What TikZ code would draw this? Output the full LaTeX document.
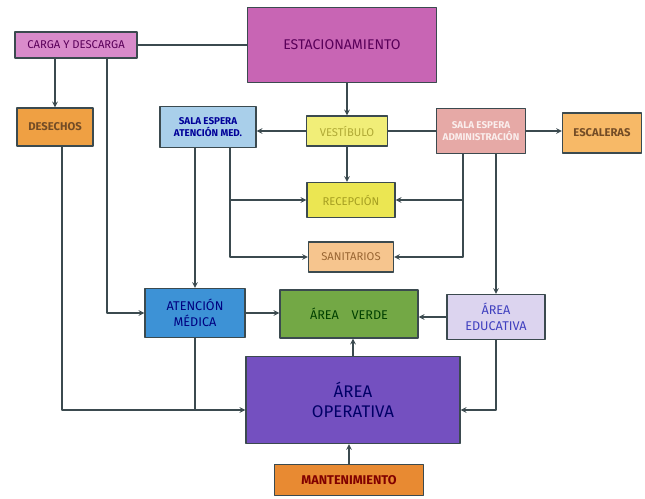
\documentclass[tikz,border=0pt]{standalone}
\usepackage{fontspec}
\setmainfont{Fira Sans}
\definecolor{magclaro}{HTML}{D98BCB}
\definecolor{magenta2}{HTML}{C865B4}
\definecolor{naranja}{HTML}{EFA043}
\definecolor{celeste}{HTML}{A9CFEA}
\definecolor{amarillo}{HTML}{F1EE78}
\definecolor{rosa}{HTML}{E6A9A6}
\definecolor{naranjaclaro}{HTML}{F7B967}
\definecolor{amarillo2}{HTML}{EBE652}
\definecolor{salmon}{HTML}{F6C58E}
\definecolor{azul}{HTML}{3D92D6}
\definecolor{verdeh}{HTML}{73A845}
\definecolor{lavanda}{HTML}{DCD4EF}
\definecolor{morado}{HTML}{7450C0}
\definecolor{naranja2}{HTML}{E88A32}
\definecolor{linea}{HTML}{3B4A4F}
\tikzset{
  caja/.style={draw=linea, line width=1pt, align=center, inner sep=1pt, font=\footnotesize},
  flecha/.style={->, draw=linea, line width=0.8pt},
  linea/.style={draw=linea, line width=0.8pt}
}
\begin{document}
\begin{tikzpicture}[x=0.025cm, y=-0.025cm, >=stealth, line join=round, line cap=round]
\useasboundingbox (0,0) rectangle (645,499);
% cajas
\node[caja, fill=magclaro, text=violet!70!black, minimum width=3.05cm, minimum height=0.65cm] (carga) at (76,45) {CARGA Y DESCARGA};
\node[caja, fill=magenta2, text=violet!70!black, minimum width=4.72cm, minimum height=1.87cm, font=\normalsize] (estac) at (342,45) {ESTACIONAMIENTO};
\node[caja, fill=naranja, text=brown!60!black, minimum width=1.9cm, minimum height=0.95cm, font=\footnotesize\bfseries] (desechos) at (55,127) {DESECHOS};
\node[caja, fill=celeste, text=blue!60!black, minimum width=2.4cm, minimum height=1.02cm, font=\scriptsize\bfseries] (salaatn) at (208,127) {SALA ESPERA\\ATENCIÓN MED.};
\node[caja, fill=amarillo, text=olive!70, minimum width=2.02cm, minimum height=0.75cm] (vest) at (347,131) {VESTÍBULO};
\node[caja, fill=rosa, text=white!80!rosa, minimum width=2.22cm, minimum height=1.12cm, font=\scriptsize\bfseries] (salaadm) at (481,131) {SALA ESPERA\\ADMINISTRACIÓN};
\node[caja, fill=naranjaclaro, text=brown!60!black, minimum width=1.97cm, minimum height=1cm, font=\footnotesize\bfseries] (escal) at (602,133) {ESCALERAS};
\node[caja, fill=amarillo2, text=olive!80, minimum width=2.2cm, minimum height=0.87cm] (recep) at (351,200) {RECEPCIÓN};
\node[caja, fill=salmon, text=brown!80!black, minimum width=2.12cm, minimum height=0.75cm] (sanit) at (351,257) {SANITARIOS};
\node[caja, fill=azul, text=blue!50!black, minimum width=2.5cm, minimum height=1.22cm, font=\small] (atnmed) at (195,313) {ATENCIÓN\\MÉDICA};
\node[caja, fill=verdeh, text=green!25!black, minimum width=3.45cm, minimum height=1.2cm, font=\small] (verde) at (349,314) {ÁREA\quad VERDE};
\node[caja, fill=lavanda, text=blue!50!gray, minimum width=2.45cm, minimum height=1.12cm, font=\small] (educ) at (496,317) {ÁREA\\EDUCATIVA};
\node[caja, fill=morado, text=blue!40!black, minimum width=5.35cm, minimum height=2.17cm, font=\large] (oper) at (353,400) {ÁREA\\OPERATIVA};
\node[caja, fill=naranja2, text=red!50!black, minimum width=3.72cm, minimum height=0.77cm, font=\small\bfseries] (mant) at (349,480) {MANTENIMIENTO};
% puntos de quiebre
\coordinate (k1) at (107,313);
\coordinate (k2) at (62,410);
\coordinate (k3) at (230,0);
\coordinate (k4) at (463,0);
% conexiones
\draw[linea] (carga) -- (estac);
\draw[flecha] (desechos.north |- carga.south) -- (desechos.north);
\draw[flecha] (carga.south -| k1) |- (atnmed.west);
\draw[flecha] (desechos.south -| k2) |- (oper.west |- k2);
\draw[linea] (atnmed.south) -- (atnmed.south |- k2);
\draw[flecha] (vest.north |- estac.south) -- (vest.north);
\draw[flecha] (vest.west) -- (vest.west -| salaatn.east);
\draw[linea] (vest.east) -- (vest.east -| salaadm.west);
\draw[flecha] (salaadm.east) -- (salaadm.east -| escal.west);
\draw[flecha] (vest.south) -- (vest.south |- recep.north);
\draw[flecha] (salaatn.south -| k3) |- (recep.west);
\draw[flecha] (salaatn.south -| k3) |- (sanit.west);
\draw[flecha] (atnmed.north |- salaatn.south) -- (atnmed.north);
\draw[flecha] (salaadm.south -| k4) |- (recep.east);
\draw[flecha] (salaadm.south -| k4) |- (sanit.east);
\draw[flecha] (educ.north |- salaadm.south) -- (educ.north);
\draw[flecha] (atnmed.east) -- (atnmed.east -| verde.west);
\draw[flecha] (educ.west) -- (educ.west -| verde.east);
\draw[flecha] (educ.south) |- (oper.east |- k2);
\draw[flecha] (oper.north) -- (oper.north |- verde.south);
\draw[flecha] (mant.north) -- (mant.north |- oper.south);
\end{tikzpicture}
\end{document}
